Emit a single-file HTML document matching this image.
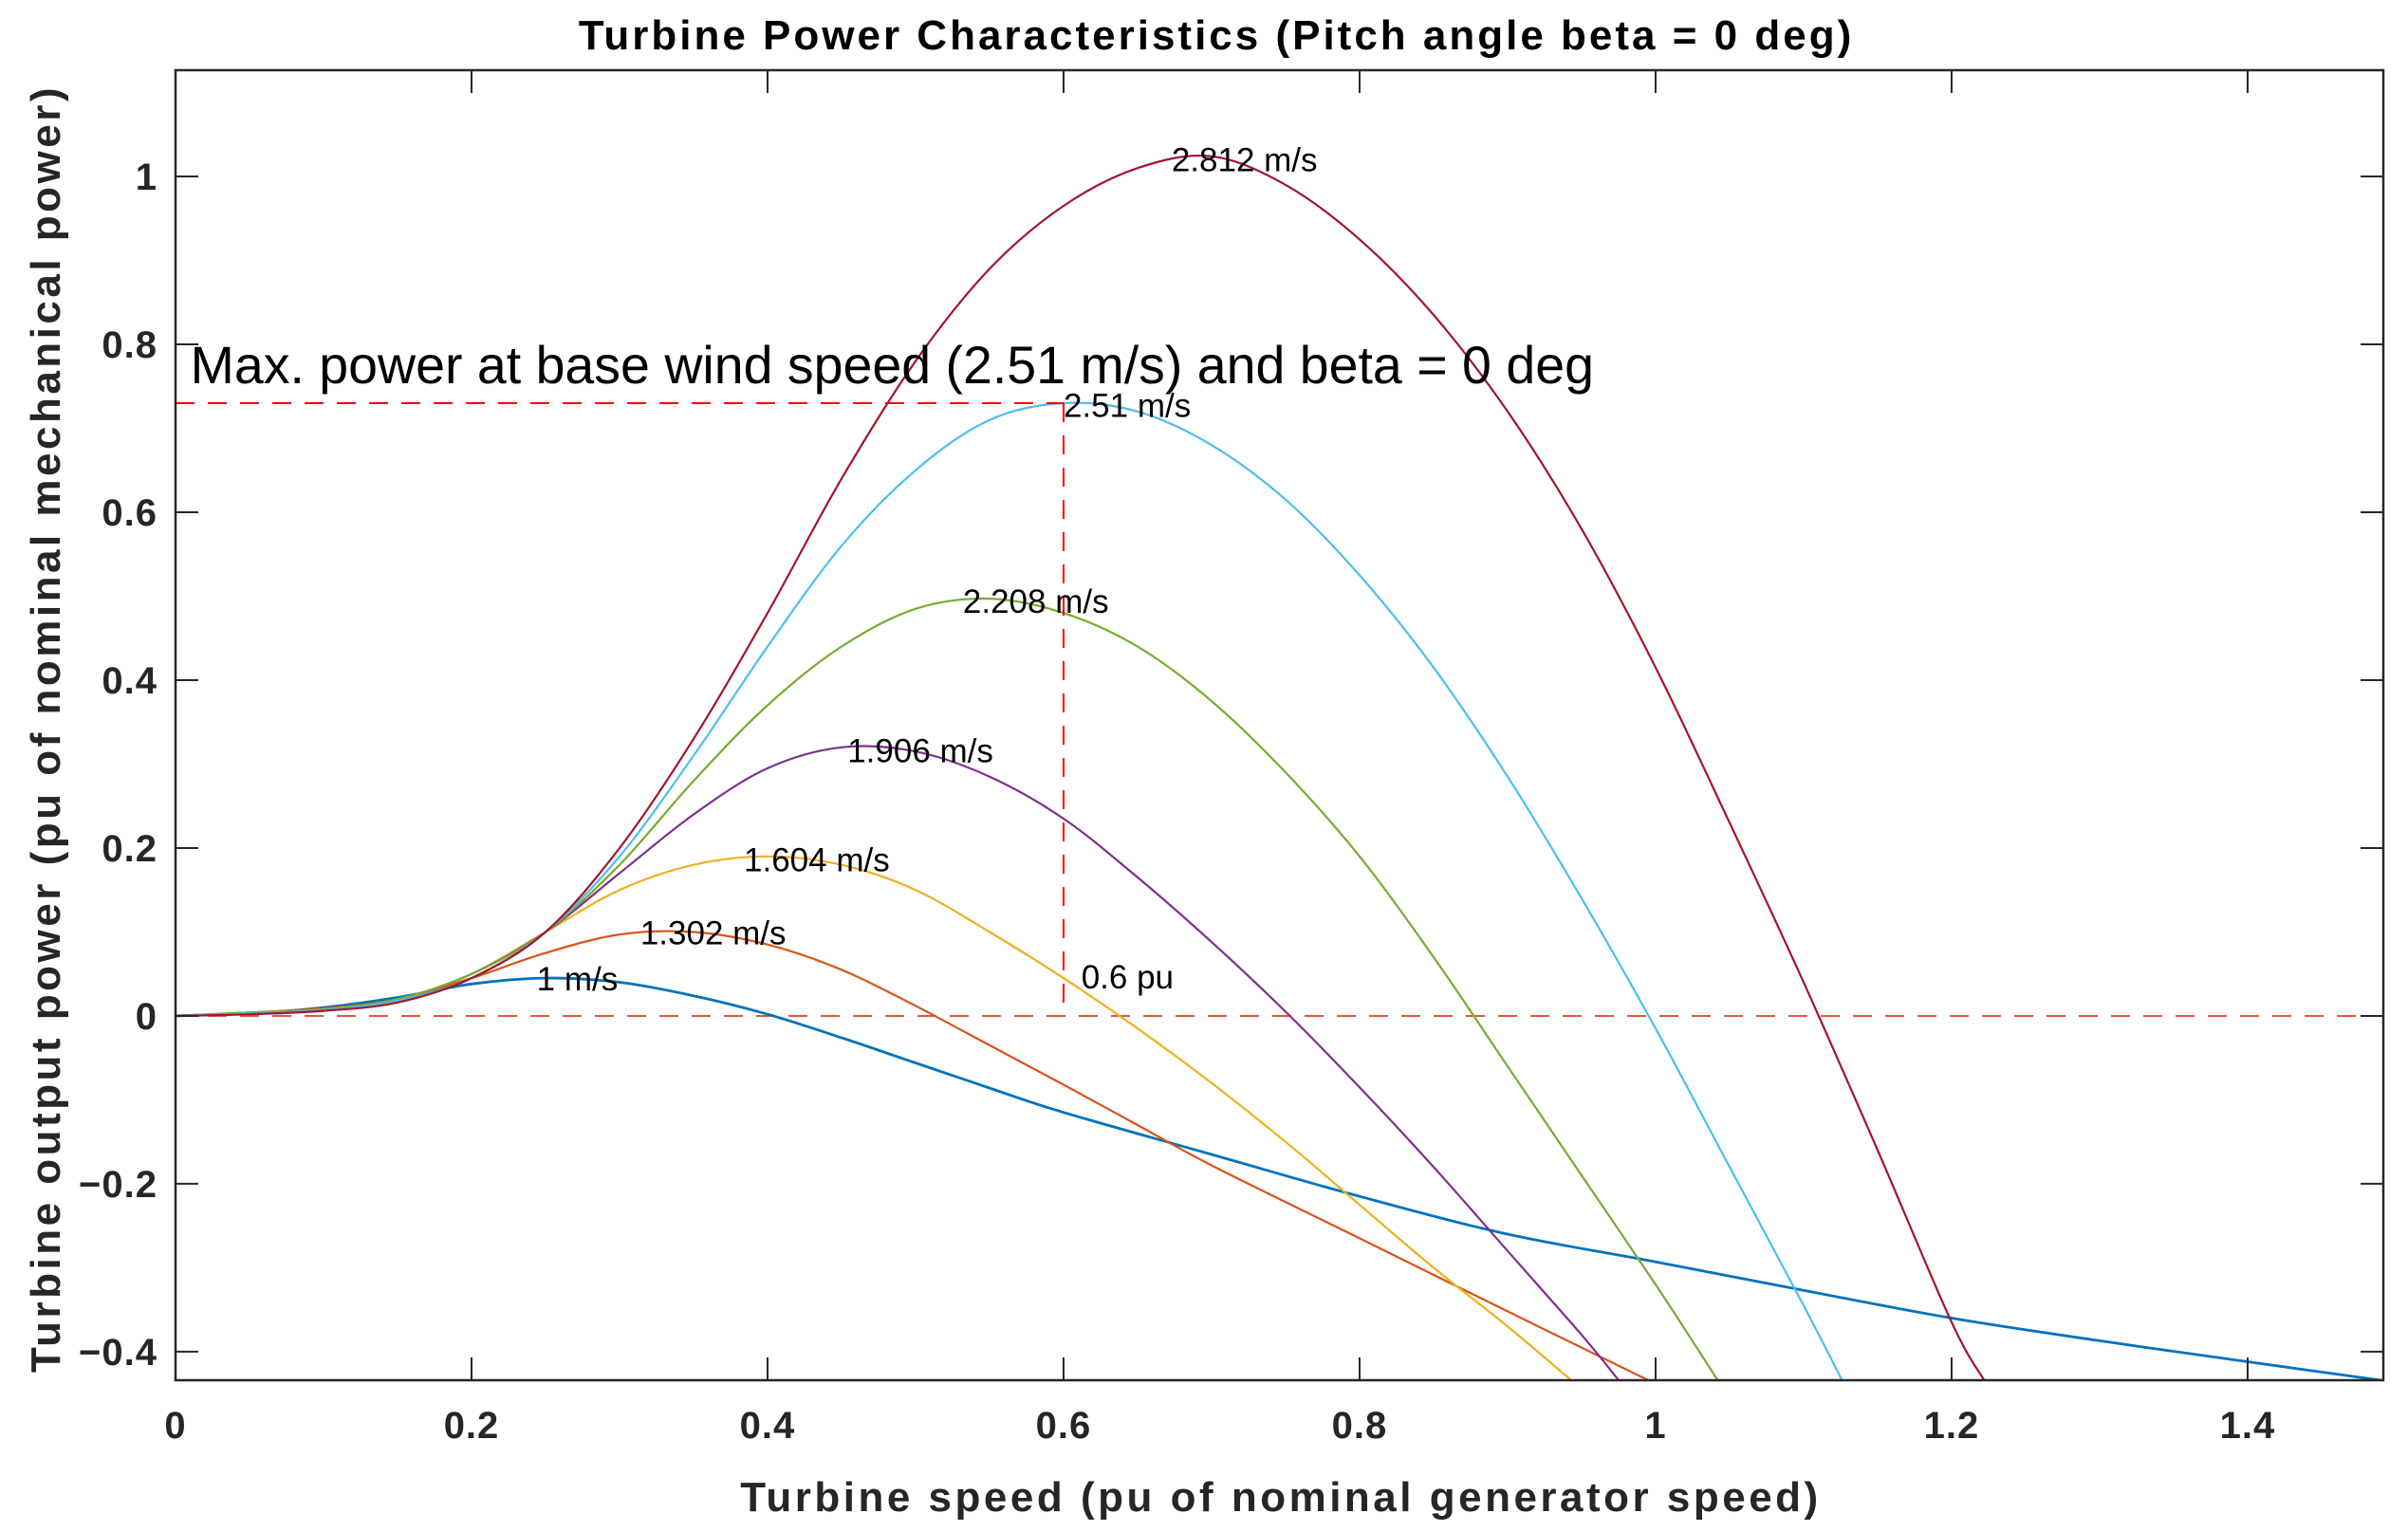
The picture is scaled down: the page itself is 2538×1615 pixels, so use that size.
<!DOCTYPE html>
<html><head><meta charset="utf-8"><style>
html,body{margin:0;padding:0;background:#fff;}
svg{display:block;}
text{font-family:"Liberation Sans",Arial,sans-serif;}
</style></head><body>
<svg id="chart" width="2538" height="1615" viewBox="0 0 2538 1615" xmlns="http://www.w3.org/2000/svg">
<rect width="2538" height="1615" fill="#fff"/>
<g id="marks"></g>
<g id="axes"></g>
</svg>
<script>
const xTicks = [0, 0.2, 0.4, 0.6, 0.8, 1, 1.2, 1.4];
const xTickLabels = ["0", "0.2", "0.4", "0.6", "0.8", "1", "1.2", "1.4"];
const yTicks = [-0.4, -0.2, 0, 0.2, 0.4, 0.6, 0.8, 1];
const yTickLabels = ["\u22120.4", "\u22120.2", "0", "0.2", "0.4", "0.6", "0.8", "1"];
const seriesNames = ["1 m/s", "1.302 m/s", "1.604 m/s", "1.906 m/s", "2.208 m/s", "2.51 m/s", "2.812 m/s"];
const s1x = [0,0.05,0.1,0.15,0.2,0.25,0.3,0.35,0.4,0.45,0.5,0.55,0.6,0.7,0.8,0.9,1.0,1.1,1.2,1.3,1.4,1.49];
const s1y = [0,0.003,0.01,0.022,0.038,0.045,0.04,0.024,0.002,-0.026,-0.056,-0.086,-0.115,-0.165,-0.215,-0.26,-0.293,-0.327,-0.36,-0.387,-0.412,-0.434];
const s2x = [0,0.05,0.1,0.15,0.2,0.25,0.3,0.35,0.4,0.45,0.5,0.55,0.6,0.65,0.7,0.8,0.9,0.995];
const s2y = [0,0.004,0.009,0.02,0.045,0.075,0.097,0.1,0.085,0.055,0.012,-0.035,-0.082,-0.13,-0.178,-0.265,-0.352,-0.434];
const s3x = [0,0.05,0.1,0.15,0.2,0.25,0.3,0.35,0.4,0.45,0.5,0.55,0.6,0.65,0.7,0.75,0.8,0.85,0.9,0.943];
const s3y = [0,0.004,0.008,0.02,0.05,0.1,0.15,0.18,0.19,0.18,0.15,0.1,0.045,-0.015,-0.08,-0.15,-0.225,-0.3,-0.37,-0.434];
const s4x = [0,0.05,0.1,0.15,0.2,0.25,0.3,0.35,0.4,0.45,0.5,0.55,0.6,0.65,0.7,0.75,0.8,0.85,0.9,0.95,0.975];
const s4y = [0,0.004,0.008,0.02,0.05,0.1,0.17,0.24,0.295,0.32,0.315,0.285,0.235,0.165,0.088,0.005,-0.085,-0.18,-0.28,-0.38,-0.434];
const s5x = [0,0.05,0.1,0.15,0.2,0.25,0.3,0.35,0.4,0.45,0.5,0.55,0.6,0.65,0.7,0.75,0.8,0.85,0.9,0.95,1.0,1.042];
const s5y = [0,0.004,0.008,0.02,0.05,0.1,0.18,0.28,0.37,0.44,0.485,0.497,0.48,0.44,0.375,0.29,0.19,0.07,-0.06,-0.19,-0.32,-0.434];
const s6x = [0,0.05,0.1,0.15,0.2,0.25,0.3,0.35,0.4,0.45,0.5,0.55,0.6,0.65,0.7,0.75,0.8,0.85,0.9,0.95,1.0,1.05,1.1,1.126];
const s6y = [0,0.003,0.007,0.018,0.045,0.1,0.19,0.31,0.44,0.56,0.65,0.71,0.73,0.72,0.68,0.615,0.525,0.415,0.285,0.14,-0.015,-0.18,-0.345,-0.434];
const s7x = [0,0.05,0.1,0.15,0.2,0.25,0.3,0.35,0.4,0.45,0.5,0.55,0.6,0.65,0.7,0.75,0.8,0.85,0.9,0.95,1.0,1.05,1.1,1.15,1.2,1.222];
const s7y = [0,0.002,0.006,0.016,0.045,0.1,0.2,0.33,0.48,0.64,0.78,0.89,0.965,1.01,1.024,0.99,0.925,0.835,0.72,0.58,0.415,0.23,0.04,-0.16,-0.365,-0.434];
const labelX = [0.244, 0.314, 0.384, 0.454, 0.532, 0.6, 0.673];
const labelY = [0.044, 0.099, 0.186, 0.316, 0.494, 0.727, 1.02];
const basePower = 0.73;
const baseSpeed = 0.6;

const L=185,R=2512,T=74,B=1455, XMIN=0, XMAX=1.4917, YMIN=-0.434, YMAX=1.1266;
const xs = v => L + (v-XMIN)/(XMAX-XMIN)*(R-L);
const ys = v => B - (v-YMIN)/(YMAX-YMIN)*(B-T);
const NS="http://www.w3.org/2000/svg";
const marks=document.getElementById('marks'), axes=document.getElementById('axes');
function mk(tag, attrs, parent){const e=document.createElementNS(NS,tag);for(const k in attrs)e.setAttribute(k,attrs[k]);parent.appendChild(e);return e;}

const defs=mk('defs',{},marks);
const cp=mk('clipPath',{id:'clip'},defs);
mk('rect',{x:L,y:T,width:R-L,height:B-T},cp);
const g=mk('g',{'clip-path':'url(#clip)'},marks);

function pathFrom(xa,ya){
  const p=xa.map((x,i)=>[xs(x),ys(ya[i])]);
  let d='M'+p[0][0].toFixed(1)+','+p[0][1].toFixed(1);
  for(let i=0;i<p.length-1;i++){
    const p0=p[Math.max(0,i-1)],p1=p[i],p2=p[i+1],p3=p[Math.min(p.length-1,i+2)];
    const c1x=p1[0]+(p2[0]-p0[0])/6,c1y=p1[1]+(p2[1]-p0[1])/6;
    const c2x=p2[0]-(p3[0]-p1[0])/6,c2y=p2[1]-(p3[1]-p1[1])/6;
    d+=' C'+c1x.toFixed(1)+','+c1y.toFixed(1)+' '+c2x.toFixed(1)+','+c2y.toFixed(1)+' '+p2[0].toFixed(1)+','+p2[1].toFixed(1);
  }
  return d;
}

let z=mk('line',{x1:L,x2:R,y1:ys(0),y2:ys(0),stroke:'#E8553C','stroke-width':2,'stroke-dasharray':'20,14'},g);



const colors=['#0072BD','#D95319','#EDB120','#7E2F8E','#77AC30','#4DBEEE','#A2142F'];
const X=[s1x,s2x,s3x,s4x,s5x,s6x,s7x], Y=[s1y,s2y,s3y,s4y,s5y,s6y,s7y];
X.forEach((xa,i)=>{
  const p=mk('path',{d:pathFrom(xa,Y[i]),fill:'none',stroke:colors[i],'stroke-width':i==0?2.8:2.2},g);
  
  
});

let h=mk('line',{x1:xs(0),x2:xs(baseSpeed),y1:ys(basePower),y2:ys(basePower),stroke:'#FF0000','stroke-width':2,'stroke-dasharray':'20,14'},g);


let v=mk('line',{x1:xs(baseSpeed),x2:xs(baseSpeed),y1:ys(basePower),y2:ys(0),stroke:'#FF0000','stroke-width':2,'stroke-dasharray':'20,14'},g);



seriesNames.forEach((n,i)=>{
  const t=mk('text',{x:xs(labelX[i]),y:ys(labelY[i])+12,'font-size':35,fill:'#000'},marks);
  t.textContent=n;
  
  
});
let pu=mk('text',{x:xs(0.612),y:ys(0.046)+12,'font-size':35,fill:'#000'},marks);
pu.textContent='0.6 pu';


let an=mk('text',{x:xs(0.01),y:ys(0.775)+19,'font-size':55.5,fill:'#000'},marks);
an.textContent='Max. power at base wind speed (2.51 m/s) and beta = 0 deg';



let box=mk('rect',{x:L,y:T,width:R-L,height:B-T,fill:'none',stroke:'#262626','stroke-width':2.5},axes);


xTicks.forEach((t,i)=>{
  const x=xs(t);
  mk('line',{x1:x,x2:x,y1:B,y2:B-24,stroke:'#262626','stroke-width':2},axes);
  mk('line',{x1:x,x2:x,y1:T,y2:T+24,stroke:'#262626','stroke-width':2},axes);
  const tl=mk('text',{x:x,y:1516,'text-anchor':'middle','font-size':40,'font-weight':'bold',fill:'#262626','letter-spacing':1},axes);
  tl.textContent=xTickLabels[i];
  
  
});
yTicks.forEach((t,i)=>{
  const y=ys(t);
  mk('line',{x1:L,x2:L+24,y1:y,y2:y,stroke:'#262626','stroke-width':2},axes);
  mk('line',{x1:R,x2:R-24,y1:y,y2:y,stroke:'#262626','stroke-width':2},axes);
  const tl=mk('text',{x:166,y:y+14,'text-anchor':'end','font-size':40,'font-weight':'bold',fill:'#262626','letter-spacing':1},axes);
  tl.textContent=yTickLabels[i];
  
  
});
let tt=mk('text',{x:1282,y:52,'text-anchor':'middle','font-size':44,'font-weight':'bold',fill:'#000','letter-spacing':3},axes);
tt.textContent='Turbine Power Characteristics (Pitch angle beta = 0 deg)';


let xl=mk('text',{x:1350,y:1593,'text-anchor':'middle','font-size':44,'font-weight':'bold',fill:'#262626','letter-spacing':3.5},axes);
xl.textContent='Turbine speed (pu of nominal generator speed)';


let yl=mk('text',{x:0,y:0,'text-anchor':'middle','font-size':44,'font-weight':'bold',fill:'#262626','letter-spacing':3.5,transform:'translate(63,768) rotate(-90)'},axes);
yl.textContent='Turbine output power (pu of nominal mechanical power)';


</script>
</body></html>
